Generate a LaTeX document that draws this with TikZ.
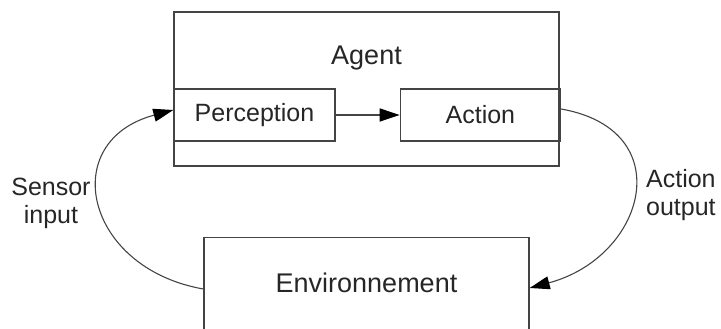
\documentclass[tikz,border=0pt]{standalone}
\usepackage{fontspec}
\setmainfont{Liberation Sans}
\usepackage{tikz}
\usetikzlibrary{arrows.meta, positioning}

\definecolor{linegray}{HTML}{444444}
\definecolor{textgray}{HTML}{262626}

\begin{document}
\begin{tikzpicture}[
    x=1pt, y=1pt,
    font=\fontsize{25}{28}\selectfont,
    >={Triangle[length=20pt, width=13pt, color=black]},
    base/.style={draw=linegray, line width=1.4pt, text=textgray, align=center, inner sep=0pt},
    outerbox/.style={base, minimum width=385pt, minimum height=154pt},
    subbox/.style={base, minimum width=160pt, minimum height=52pt},
    envbox/.style={base, minimum width=325pt, minimum height=130pt},
    title_text/.style={text=textgray, font=\fontsize{27}{30}\selectfont},
    label_text/.style={text=textgray, inner sep=0pt},
    arrow/.style={->, line width=1.4pt, color=linegray},
    curved_arrow/.style={->, line width=1.1pt, color=linegray}
]
\useasboundingbox (0,0) rectangle (721,329);

% Agent
\node[outerbox] (agent) at (366.5,240) {};
\node[title_text, anchor=base] (agenttitle) at ([yshift=-53pt]agent.north) {Agent};
\node[subbox, minimum width=161pt, anchor=north west] (perc) at ([yshift=-77pt]agent.north west) {Perception};
\node[subbox, right=64pt of perc] (action) {Action};

% Environment
\node[envbox, anchor=north] (env) at (366.5,92) {};
\node[title_text] (envtitle) at ([yshift=-46pt]env.north) {Environnement};

% Connections
\draw[arrow] (perc.east) -- (action.west);
\draw[curved_arrow] ([yshift=-52pt]env.north west) to[out=170, in=195, looseness=1.7]
    node[label_text, align=center, left=9pt] {Sensor\\input} ([yshift=5pt]perc.west);
\draw[curved_arrow] ([yshift=6pt]action.east) to[out=-10, in=15, looseness=1.7]
    node[label_text, align=left, right=12pt] {Action\\output} ([yshift=-51pt]env.north east);

\end{tikzpicture}
\end{document}
